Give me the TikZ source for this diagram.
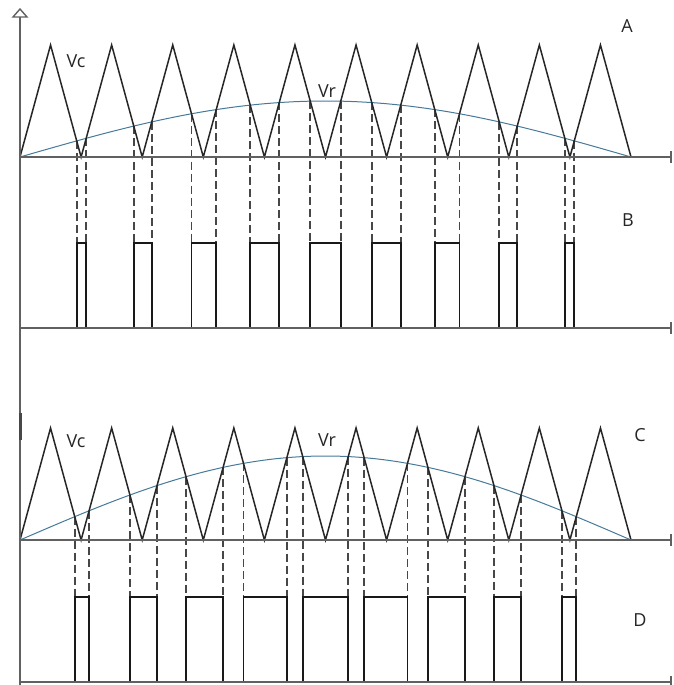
\documentclass[tikz,border=0pt]{standalone}
\usepackage{fontspec}
\setmainfont{Open Sans}
\definecolor{vrblue}{RGB}{70,122,152}
\begin{document}
\begin{tikzpicture}[x=1pt,y=-1pt,
  axis/.style={draw=black!62, line width=2pt},
  wave/.style={draw=black!85, line width=1.5pt, line join=miter},
  pulse/.style={draw=black!90, line width=1.6pt},
  guide/.style={draw=black!72, line width=1.6pt, dash pattern=on 8pt off 4pt},
  refw/.style={draw=vrblue, line width=1pt},
  lbl/.style={text=black!85, font=\fontsize{18}{18}\selectfont, inner sep=0pt}]
\useasboundingbox (0,0) rectangle (673,685);
% guides and pulses, panel B
\foreach \l/\r/\k in {76.71/86.20/81.1, 133.76/151.79/142.2, 191.49/216.26/203.3, 250.22/279.29/264.4, 310.23/340.78/325.5, 371.71/400.78/386.6, 434.74/459.51/447.7, 499.21/517.24/508.8, 564.80/574.29/569.9}{
  \draw[guide] (\l,{157-3.666*(\k-\l)}) -- (\l,328);
  \draw[guide] (\r,{157-3.666*(\r-\k)}) -- (\r,328);
  \draw[pulse] (\l,328) -- (\l,243) -- (\r,243) -- (\r,328);
}
% guides and pulses, panel D
\foreach \l/\r/\k in {74.73/89.07/81.1, 129.93/157.04/142.2, 186.03/223.10/203.3, 243.50/286.86/264.4, 302.74/348.26/325.5, 364.14/407.50/386.6, 427.90/464.97/447.7, 493.96/521.07/508.8, 561.93/576.26/569.9}{
  \draw[guide] (\l,{540-3.666*(\k-\l)}) -- (\l,682);
  \draw[guide] (\r,{540-3.666*(\r-\k)}) -- (\r,682);
  \draw[pulse] (\l,682) -- (\l,597) -- (\r,597) -- (\r,682);
}
% reference sines
\draw[refw] plot[domain=0:180, samples=120, smooth] ({20+3.39444*\x},{157-56*sin(\x)});
\draw[refw] plot[domain=0:180, samples=120, smooth] ({20+3.39444*\x},{540-84*sin(\x)});
% carrier triangles
\draw[wave] (20,157) \foreach \i in {0,...,9} { -- ({20+61.1*\i+30.55},45) -- ({20+61.1*(\i+1)},157) };
\draw[wave] (20,540) \foreach \i in {0,...,9} { -- ({20+61.1*\i+30.55},428) -- ({20+61.1*(\i+1)},540) };
% axes
\draw[axis] (20,17) -- (20,685);
\draw[draw=black!62, line width=1.4pt, fill=white] (20,9) -- (27,17) -- (13,17) -- cycle;
\draw[draw=black!72, line width=3pt] (20,413) -- (20,440);
\foreach \y in {157,328,540,682}{
  \draw[axis] (20,\y) -- (671,\y);
  \draw[axis] (671,{\y-6}) -- (671,{\y+6});
}
% labels
\node[lbl] (vcA) at (76,61) {Vc};
\node[lbl] (vrA) at (327,91) {Vr};
\node[lbl] (lA) at (627,26) {A};
\node[lbl] (lB) at (628,220) {B};
\node[lbl] (vcC) at (76,441) {Vc};
\node[lbl] (vrC) at (327,440) {Vr};
\node[lbl] (lC) at (640,435) {C};
\node[lbl] (lD) at (640,620) {D};
\end{tikzpicture}
\end{document}
